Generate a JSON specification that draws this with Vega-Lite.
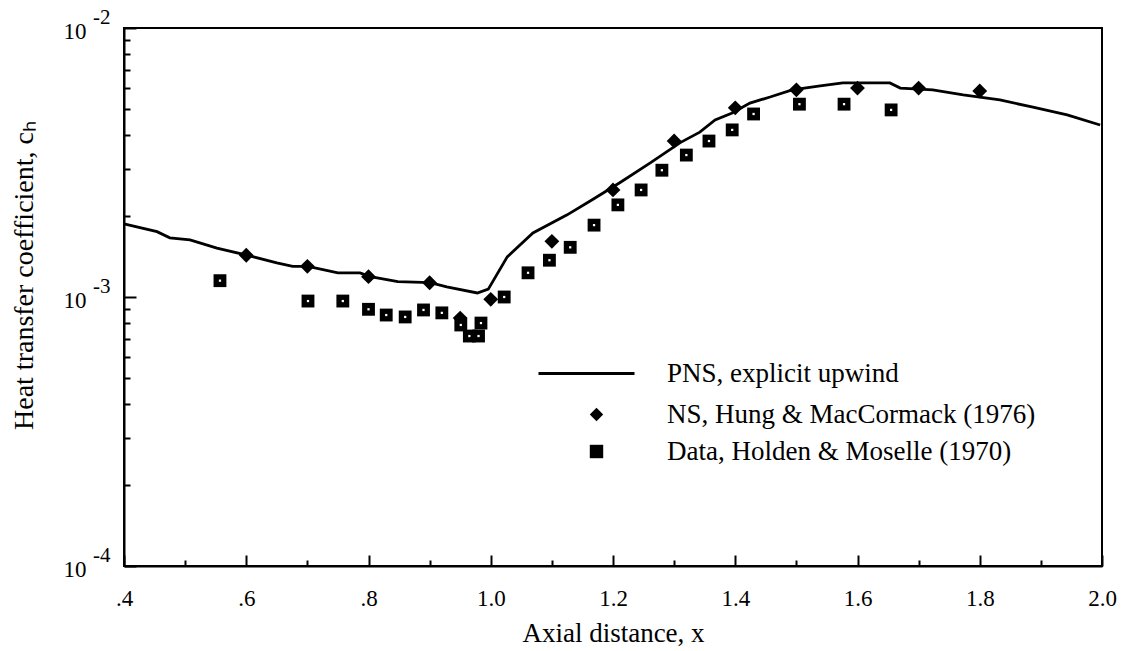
{
  "$schema": "https://vega.github.io/schema/vega-lite/v6.json",
  "width": 978,
  "height": 538,
  "autosize": "none",
  "padding": {"left": 124, "top": 28, "right": 24, "bottom": 85},
  "background": "white",
  "config": {
    "font": "Liberation Serif",
    "view": {"stroke": "black", "strokeWidth": 2},
    "axis": {
      "grid": false,
      "domainColor": "black",
      "domainWidth": 2,
      "tickColor": "black",
      "tickWidth": 2,
      "labelColor": "black",
      "labelFontSize": 23,
      "labelFont": "Liberation Serif",
      "titleFont": "Liberation Serif",
      "titleFontSize": 27,
      "titleFontWeight": "normal",
      "titleColor": "black",
      "labelOverlap": false,
      "labelFlush": false
    },
    "legend": {
      "labelFont": "Liberation Serif",
      "labelFontSize": 27,
      "labelColor": "black",
      "labelLimit": 600,
      "padding": 0,
      "title": null
    }
  },
  "datasets": {
    "pns": [
      {"x": 0.40, "ch": 0.00187},
      {"x": 0.454, "ch": 0.00175},
      {"x": 0.475, "ch": 0.00166},
      {"x": 0.508, "ch": 0.00163},
      {"x": 0.552, "ch": 0.00152},
      {"x": 0.601, "ch": 0.00143},
      {"x": 0.650, "ch": 0.00134},
      {"x": 0.676, "ch": 0.00130},
      {"x": 0.701, "ch": 0.00130},
      {"x": 0.750, "ch": 0.00123},
      {"x": 0.786, "ch": 0.00123},
      {"x": 0.803, "ch": 0.00119},
      {"x": 0.848, "ch": 0.00114},
      {"x": 0.901, "ch": 0.00113},
      {"x": 0.928, "ch": 0.00109},
      {"x": 0.978, "ch": 0.001035},
      {"x": 0.996, "ch": 0.00107},
      {"x": 1.027, "ch": 0.00141},
      {"x": 1.069, "ch": 0.00173},
      {"x": 1.125, "ch": 0.00202},
      {"x": 1.166, "ch": 0.00230},
      {"x": 1.211, "ch": 0.00266},
      {"x": 1.261, "ch": 0.00315},
      {"x": 1.310, "ch": 0.00375},
      {"x": 1.342, "ch": 0.00410},
      {"x": 1.367, "ch": 0.00455},
      {"x": 1.395, "ch": 0.00483},
      {"x": 1.424, "ch": 0.00526},
      {"x": 1.457, "ch": 0.00554},
      {"x": 1.493, "ch": 0.00589},
      {"x": 1.539, "ch": 0.00609},
      {"x": 1.576, "ch": 0.00625},
      {"x": 1.616, "ch": 0.00625},
      {"x": 1.653, "ch": 0.00625},
      {"x": 1.670, "ch": 0.00598},
      {"x": 1.723, "ch": 0.00589},
      {"x": 1.773, "ch": 0.00564},
      {"x": 1.833, "ch": 0.00540},
      {"x": 1.887, "ch": 0.00508},
      {"x": 1.943, "ch": 0.00475},
      {"x": 1.997, "ch": 0.00436}
    ],
    "ns": [
      {"x": 0.60, "ch": 0.00143, "series": "NS, Hung & MacCormack (1976)"},
      {"x": 0.70, "ch": 0.00130, "series": "NS, Hung & MacCormack (1976)"},
      {"x": 0.80, "ch": 0.00119, "series": "NS, Hung & MacCormack (1976)"},
      {"x": 0.90, "ch": 0.00113, "series": "NS, Hung & MacCormack (1976)"},
      {"x": 0.95, "ch": 0.000835, "series": "NS, Hung & MacCormack (1976)"},
      {"x": 1.00, "ch": 0.00098, "series": "NS, Hung & MacCormack (1976)"},
      {"x": 1.10, "ch": 0.00161, "series": "NS, Hung & MacCormack (1976)"},
      {"x": 1.20, "ch": 0.00250, "series": "NS, Hung & MacCormack (1976)"},
      {"x": 1.30, "ch": 0.00380, "series": "NS, Hung & MacCormack (1976)"},
      {"x": 1.40, "ch": 0.00505, "series": "NS, Hung & MacCormack (1976)"},
      {"x": 1.50, "ch": 0.00589, "series": "NS, Hung & MacCormack (1976)"},
      {"x": 1.60, "ch": 0.00598, "series": "NS, Hung & MacCormack (1976)"},
      {"x": 1.70, "ch": 0.00598, "series": "NS, Hung & MacCormack (1976)"},
      {"x": 1.80, "ch": 0.00583, "series": "NS, Hung & MacCormack (1976)"}
    ],
    "exp": [
      {"x": 0.557, "ch": 0.00115, "series": "Data, Holden & Moselle (1970)"},
      {"x": 0.701, "ch": 0.000966, "series": "Data, Holden & Moselle (1970)"},
      {"x": 0.758, "ch": 0.000966, "series": "Data, Holden & Moselle (1970)"},
      {"x": 0.800, "ch": 0.000900, "series": "Data, Holden & Moselle (1970)"},
      {"x": 0.829, "ch": 0.000857, "series": "Data, Holden & Moselle (1970)"},
      {"x": 0.860, "ch": 0.000843, "series": "Data, Holden & Moselle (1970)"},
      {"x": 0.890, "ch": 0.000895, "series": "Data, Holden & Moselle (1970)"},
      {"x": 0.920, "ch": 0.000873, "series": "Data, Holden & Moselle (1970)"},
      {"x": 0.951, "ch": 0.000787, "series": "Data, Holden & Moselle (1970)"},
      {"x": 0.965, "ch": 0.000716, "series": "Data, Holden & Moselle (1970)"},
      {"x": 0.980, "ch": 0.000716, "series": "Data, Holden & Moselle (1970)"},
      {"x": 0.984, "ch": 0.000800, "series": "Data, Holden & Moselle (1970)"},
      {"x": 1.022, "ch": 0.00100, "series": "Data, Holden & Moselle (1970)"},
      {"x": 1.061, "ch": 0.00123, "series": "Data, Holden & Moselle (1970)"},
      {"x": 1.096, "ch": 0.00137, "series": "Data, Holden & Moselle (1970)"},
      {"x": 1.130, "ch": 0.00153, "series": "Data, Holden & Moselle (1970)"},
      {"x": 1.169, "ch": 0.00185, "series": "Data, Holden & Moselle (1970)"},
      {"x": 1.208, "ch": 0.00220, "series": "Data, Holden & Moselle (1970)"},
      {"x": 1.246, "ch": 0.00250, "series": "Data, Holden & Moselle (1970)"},
      {"x": 1.280, "ch": 0.00296, "series": "Data, Holden & Moselle (1970)"},
      {"x": 1.320, "ch": 0.00337, "series": "Data, Holden & Moselle (1970)"},
      {"x": 1.357, "ch": 0.00380, "series": "Data, Holden & Moselle (1970)"},
      {"x": 1.395, "ch": 0.00418, "series": "Data, Holden & Moselle (1970)"},
      {"x": 1.430, "ch": 0.00479, "series": "Data, Holden & Moselle (1970)"},
      {"x": 1.505, "ch": 0.00521, "series": "Data, Holden & Moselle (1970)"},
      {"x": 1.578, "ch": 0.00521, "series": "Data, Holden & Moselle (1970)"},
      {"x": 1.655, "ch": 0.00496, "series": "Data, Holden & Moselle (1970)"}
    ],
    "decades": [
      {"ch": 0.0001, "e": "-4"},
      {"ch": 0.001, "e": "-3"},
      {"ch": 0.01, "e": "-2"}
    ]
  },
  "layer": [
    {
      "data": {"name": "pns"},
      "mark": {"type": "line", "strokeWidth": 2.8},
      "encoding": {
        "x": {
          "field": "x",
          "type": "quantitative",
          "scale": {"domain": [0.4, 2.0], "nice": false, "zero": false},
          "axis": {
            "title": "Axial distance, x",
            "values": [0.4, 0.5, 0.6, 0.7, 0.8, 0.9, 1.0, 1.1, 1.2, 1.3, 1.4, 1.5, 1.6, 1.7, 1.8, 1.9, 2.0],
            "labelExpr": "round(datum.value*10)%2==0 ? (datum.value < 1 ? replace(format(datum.value,'.1f'),'0.','.') : format(datum.value,'.1f')) : ''",
            "tickSize": {"condition": {"test": "round(datum.value*10)%2==0", "value": -11}, "value": -6},
            "labelPadding": 32,
            "titlePadding": 5
          }
        },
        "y": {
          "field": "ch",
          "type": "quantitative",
          "scale": {"type": "log", "domain": [0.0001, 0.01], "nice": false},
          "axis": {
            "title": "Heat transfer coefficient, cₕ",
            "values": [0.0001, 0.0002, 0.0003, 0.0004, 0.0005, 0.0006, 0.0007, 0.0008, 0.0009, 0.001, 0.002, 0.003, 0.004, 0.005, 0.006, 0.007, 0.008, 0.009, 0.01],
            "labelExpr": "datum.value==0.01 || datum.value==0.001 || datum.value==0.0001 ? '10' : ''",
            "tickSize": {"condition": {"test": "datum.value==0.01 || datum.value==0.001 || datum.value==0.0001", "value": -12}, "value": -6},
            "labelPadding": 50,
            "labelOffset": 3,
            "titleX": -100,
            "titleY": 247,
            "titleBaseline": "middle",
            "titleFontSize": 28
          }
        },
        "color": {
          "datum": "PNS, explicit upwind",
          "type": "nominal",
          "scale": {"range": ["black"]},
          "legend": {
            "orient": "none",
            "legendX": 413,
            "legendY": 296,
            "symbolType": "stroke",
            "symbolSize": 9216,
            "symbolStrokeWidth": 3,
            "labelOffset": 31
          }
        }
      }
    },
    {
      "data": {"name": "ns"},
      "mark": {"type": "point", "filled": true, "color": "black", "size": 220, "opacity": 1},
      "encoding": {
        "x": {"field": "x", "type": "quantitative"},
        "y": {"field": "ch", "type": "quantitative"},
        "shape": {
          "field": "series",
          "type": "nominal",
          "scale": {
            "domain": ["NS, Hung & MacCormack (1976)", "Data, Holden & Moselle (1970)"],
            "range": ["diamond", "square"]
          },
          "legend": {
            "orient": "none",
            "legendX": 459,
            "legendY": 373,
            "symbolSize": 180,
            "symbolFillColor": "black",
            "symbolOpacity": 1,
            "labelOffset": 57,
            "rowPadding": 9
          }
        }
      }
    },
    {
      "data": {"name": "exp"},
      "mark": {"type": "point", "filled": true, "color": "black", "size": 165, "opacity": 1},
      "encoding": {
        "x": {"field": "x", "type": "quantitative"},
        "y": {"field": "ch", "type": "quantitative"},
        "shape": {"field": "series", "type": "nominal"}
      }
    },
    {
      "data": {"name": "exp"},
      "mark": {"type": "point", "filled": true, "shape": "square", "color": "white", "size": 5, "opacity": 1},
      "encoding": {
        "x": {"field": "x", "type": "quantitative"},
        "y": {"field": "ch", "type": "quantitative"}
      }
    },
    {
      "data": {"name": "decades"},
      "mark": {"type": "text", "align": "left", "baseline": "middle", "dx": -31, "dy": -10, "fontSize": 21, "font": "Liberation Serif", "fill": "black", "clip": false},
      "encoding": {
        "x": {"datum": 0.4, "type": "quantitative"},
        "y": {"field": "ch", "type": "quantitative"},
        "text": {"field": "e", "type": "nominal"}
      }
    }
  ]
}
